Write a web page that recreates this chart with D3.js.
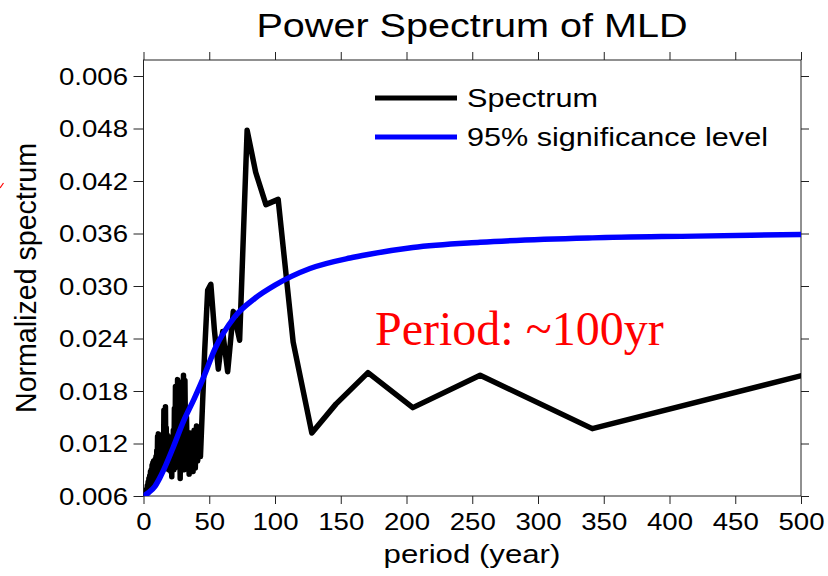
<!DOCTYPE html>
<html>
<head>
<meta charset="utf-8">
<script src="https://cdn.jsdelivr.net/npm/d3@7"></script>
<style>
  html, body { margin: 0; padding: 0; background: #fff; }
  svg { display: block; }
  text { font-family: "Liberation Sans", Arial, sans-serif; }
  text.serif { font-family: "Liberation Serif", "Times New Roman", serif; }
</style>
</head>
<body>
<svg id="chart" width="828" height="576"></svg>
<script>
// ---------------- data ----------------
const chartTitle = "Power Spectrum of MLD";
const xTitle = "period (year)";
const yTitle = "Normalized spectrum";
const annotation = "Period: ~100yr";
const seriesNames = ["Spectrum", "95% significance level"];

const xTicks = [0, 50, 100, 150, 200, 250, 300, 350, 400, 450, 500];
const yTicks = [0.006, 0.012, 0.018, 0.024, 0.030, 0.036, 0.042, 0.048, 0.054];
const yTickLabels = ["0.006", "0.012", "0.018", "0.024", "0.030", "0.036", "0.042", "0.048", "0.006"];

// Spectrum (black)
const specPeriod = [2.0, 2.3, 2.6, 2.9, 3.2, 3.5, 3.8, 4.1, 4.4, 4.7, 5.0, 5.3, 5.6, 5.9, 6.2, 6.5, 6.8, 7.1, 7.4, 7.7,
  8.0, 8.3, 8.6, 8.9, 9.2, 9.5, 9.8, 10.1, 10.4, 10.7, 11.0, 11.3, 11.6, 11.9, 12.2, 12.5, 12.8, 13.1, 13.4, 13.7,
  14.0, 14.3, 14.6, 14.9, 15.2, 15.5, 15.8, 16.1, 16.4, 16.7, 17.0, 17.3, 17.6, 17.9, 18.3, 18.7, 19.1, 19.5, 19.9, 20.3,
  20.7, 21.1, 21.5, 21.9, 22.3, 22.7, 23.1, 23.5, 23.9, 24.3, 24.7, 25.1, 25.5, 25.9, 26.3, 26.7, 27.1, 27.5, 27.9, 28.4,
  28.9, 29.4, 29.9, 30.4, 30.9, 31.5, 32.1, 32.7, 33.3, 34.0, 34.7, 35.4, 36.1, 36.9, 37.7, 38.5, 39.4, 40.3, 41.2, 42.2,
  43.3, 44.5, 46.5, 48.8, 51.2, 53.9, 56.9, 60.2, 64.0, 68.3, 73.1, 78.8, 85.3, 93.1, 102.4, 113.8, 128.0, 146.3,
  170.7, 204.8, 256.0, 341.3, 512.0];
const specValue = [0.0061, 0.0068, 0.0063, 0.0072, 0.0065, 0.0076, 0.0066, 0.0080, 0.0068, 0.0083, 0.0070, 0.0088, 0.0072, 0.0090, 0.0074, 0.0095, 0.0076, 0.0098, 0.0078, 0.0100,
  0.0076, 0.0098, 0.0080, 0.0102, 0.0082, 0.0105, 0.0085, 0.0112, 0.0090, 0.0128, 0.0092, 0.0131, 0.0095, 0.0118, 0.0088, 0.0104, 0.0086, 0.0106, 0.0088, 0.0110,
  0.0090, 0.0115, 0.0092, 0.0125, 0.0095, 0.0158, 0.0105, 0.0150, 0.0100, 0.0162, 0.0098, 0.0138, 0.0096, 0.0130, 0.0095, 0.0128, 0.0090, 0.0122, 0.0092, 0.0120,
  0.0088, 0.0115, 0.0082, 0.0128, 0.0095, 0.0135, 0.0090, 0.0160, 0.0092, 0.0185, 0.0095, 0.0178, 0.0100, 0.0193, 0.0115, 0.0165, 0.0100, 0.0140, 0.0080, 0.0190,
  0.0120, 0.0185, 0.0095, 0.0198, 0.0090, 0.0192, 0.0110, 0.0150, 0.0095, 0.0128, 0.0085, 0.0132, 0.0090, 0.0125, 0.0088, 0.0135, 0.0092, 0.0140, 0.0100, 0.0138,
  0.0105, 0.0150, 0.0225, 0.0295, 0.0302, 0.0250, 0.0205, 0.0248, 0.0202, 0.0271, 0.0238, 0.0478, 0.0430, 0.0393, 0.0399, 0.0236, 0.0132, 0.0165,
  0.0201, 0.0161, 0.0198, 0.0137, 0.0202];

// 95% significance level (blue)
const sigPeriod = [1.1, 4.0, 8.7, 12.5, 16.3, 22.7, 30.3, 38.5, 45.5, 54.3, 69.5, 84.8, 100.0, 126.6, 157.0, 170.7, 204.8, 256.0, 341.3, 420.0, 500.0];
const sigValue  = [0.0061, 0.0064, 0.0071, 0.0081, 0.0093, 0.0116, 0.0145, 0.0171, 0.0195, 0.0228, 0.0265, 0.0286, 0.0301, 0.0320, 0.0332, 0.0336, 0.0344, 0.0350, 0.0355, 0.0357, 0.0359];

// ---------------- drawing ----------------
const SX = 1.2; // horizontal stretch of the original figure's text
const svg = d3.select("#chart");
const pLeft = 143.5, pRight = 801, pTop = 60, pBottom = 496;

const x = d3.scaleLinear().domain([0, 500]).range([pLeft, pRight]);
const y = d3.scaleLinear().domain([0.006, 0.054]).range([pBottom, 76]);

svg.append("defs").append("clipPath").attr("id", "plotClip")
  .append("rect").attr("x", pLeft).attr("y", pTop).attr("width", pRight - pLeft).attr("height", pBottom - pTop);

// frame
svg.append("rect").attr("x", pLeft).attr("y", pTop).attr("width", pRight - pLeft).attr("height", pBottom - pTop)
  .attr("fill", "none").attr("stroke", "#222").attr("stroke-width", 1);

const tickFont = 23;
// bottom axis
const gB = svg.append("g").attr("transform", `translate(0,${pBottom})`)
  .call(d3.axisBottom(x).tickValues(xTicks).tickSize(8).tickSizeOuter(0).tickFormat(d => String(d)));
gB.select(".domain").remove();
gB.selectAll(".tick line").attr("stroke", "#222");
gB.selectAll(".tick text").attr("y", 34).attr("dy", 0).attr("font-size", tickFont)
  .attr("fill", "#000").attr("transform", `scale(${SX},1)`);

// top axis (ticks only)
const gT = svg.append("g").attr("transform", `translate(0,${pTop})`)
  .call(d3.axisTop(x).tickValues(xTicks).tickSize(8).tickSizeOuter(0).tickFormat(""));
gT.select(".domain").remove();
gT.selectAll(".tick line").attr("stroke", "#222");

// left axis
const gL = svg.append("g").attr("transform", `translate(${pLeft},0)`)
  .call(d3.axisLeft(y).tickValues(yTicks).tickSize(10).tickSizeOuter(0).tickFormat((d, i) => yTickLabels[i]));
gL.select(".domain").remove();
gL.selectAll(".tick line").attr("stroke", "#222");
gL.selectAll(".tick text").attr("x", -15.5 / SX).attr("dy", "0.36em").attr("font-size", tickFont)
  .attr("fill", "#000").attr("transform", `scale(${SX},1)`);

// right axis (ticks only)
const gR = svg.append("g").attr("transform", `translate(${pRight},0)`)
  .call(d3.axisRight(y).tickValues(yTicks).tickSize(8).tickSizeOuter(0).tickFormat(""));
gR.select(".domain").remove();
gR.selectAll(".tick line").attr("stroke", "#222");

// lines
const specData = specPeriod.map((p, i) => [p, specValue[i]]);
const sigData = sigPeriod.map((p, i) => [p, sigValue[i]]);

const plot = svg.append("g").attr("clip-path", "url(#plotClip)");
plot.append("path").datum(specData)
  .attr("d", d3.line().x(d => x(d[0])).y(d => y(d[1])))
  .attr("fill", "none").attr("stroke", "#000").attr("stroke-width", 5.5)
  .attr("stroke-linejoin", "round").attr("stroke-linecap", "round");
plot.append("path").datum(sigData)
  .attr("d", d3.line().curve(d3.curveMonotoneX).x(d => x(d[0])).y(d => y(d[1])))
  .attr("fill", "none").attr("stroke", "#0000ff").attr("stroke-width", 5.5)
  .attr("stroke-linejoin", "round").attr("stroke-linecap", "round");

// titles
function stretchedText(xp, yp, txt, size, anchor) {
  return svg.append("text").attr("transform", `translate(${xp},${yp}) scale(${SX},1)`)
    .attr("text-anchor", anchor).attr("font-size", size).attr("fill", "#000").text(txt);
}
stretchedText(472, 37, chartTitle, 33, "middle");
stretchedText(472, 563, xTitle, 26, "middle");

svg.append("text").attr("transform", `translate(36,278) scale(${SX},1) rotate(-90)`)
  .attr("text-anchor", "middle").attr("font-size", 24).attr("fill", "#000")
  .attr("textLength", 270).attr("lengthAdjust", "spacingAndGlyphs").text(yTitle);

// legend
const legColors = ["#000", "#0000ff"];
const legY = [98, 137];
seriesNames.forEach((n, i) => {
  svg.append("line").attr("x1", 375).attr("x2", 457).attr("y1", legY[i]).attr("y2", legY[i])
    .attr("stroke", legColors[i]).attr("stroke-width", 5);
  stretchedText(467, legY[i] + 8.5, n, 25.5, "start");
});

// annotation
svg.append("text").attr("class", "serif").attr("x", 375).attr("y", 345)
  .attr("font-size", 48).attr("fill", "#ff0000").text(annotation);

// small red mark at left edge
svg.append("line").attr("x1", 0).attr("y1", 188).attr("x2", 3.5).attr("y2", 183)
  .attr("stroke", "#ff0000").attr("stroke-width", 1.2);
</script>
</body>
</html>
